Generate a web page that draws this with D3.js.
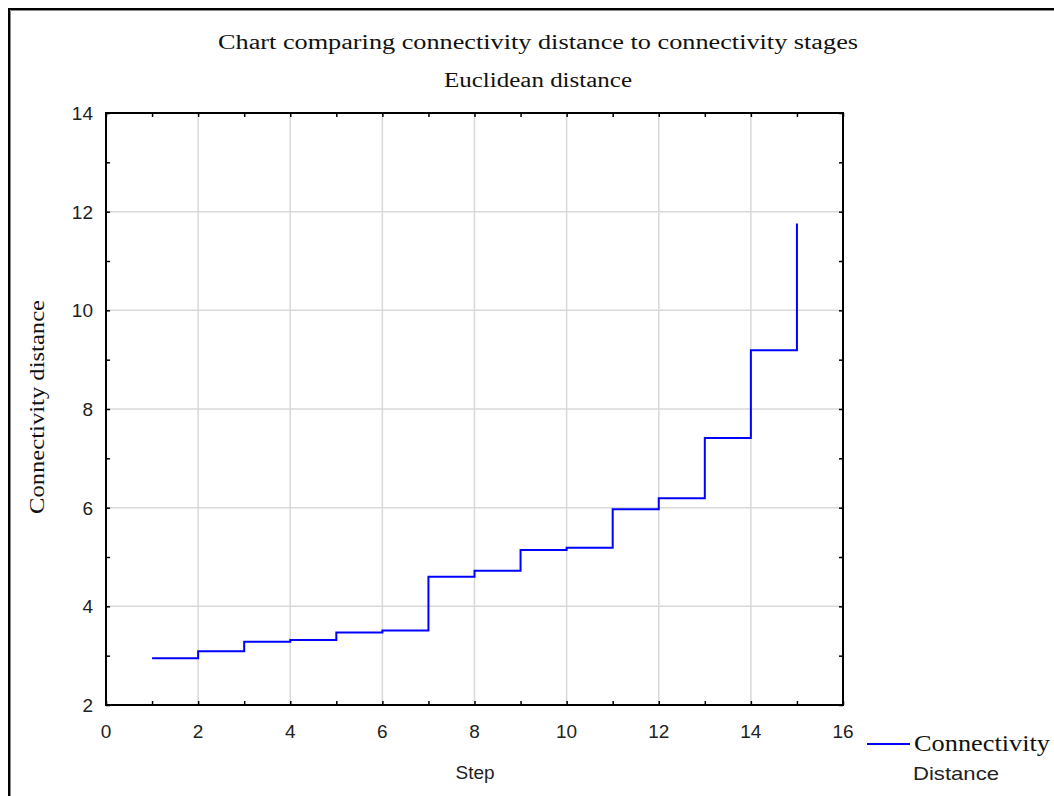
<!DOCTYPE html>
<html>
<head>
<meta charset="utf-8">
<script src="https://cdn.jsdelivr.net/npm/d3@7"></script>
<style>
  body { margin: 0; background: #fff; }
  svg { display: block; }
</style>
</head>
<body>
<div id="chart"></div>
<script>
// data
var steps = [1, 2, 3, 4, 5, 6, 7, 8, 9, 10, 11, 12, 13, 14, 15];
var distance = [2.95, 3.09, 3.28, 3.32, 3.47, 3.51, 4.60, 4.72, 5.14, 5.19, 5.97, 6.19, 7.41, 9.19, 11.76];
var xTicks = [0, 2, 4, 6, 8, 10, 12, 14, 16];
var yTicks = [2, 4, 6, 8, 10, 12, 14];

var W = 1054, H = 796;
var margin = {top: 113, right: 211, bottom: 91, left: 106};
var width = W - margin.left - margin.right,
    height = H - margin.top - margin.bottom;

var svg = d3.select("#chart").append("svg")
    .attr("width", W)
    .attr("height", H);

// outer frame (top + left only)
svg.append("path")
    .attr("d", "M9,796 V9 H1054")
    .attr("fill", "none")
    .attr("stroke", "#000")
    .attr("stroke-width", 2);
svg.append("path")
    .attr("d", "M10.5,796 V10.5 H1054")
    .attr("fill", "none")
    .attr("stroke", "#888")
    .attr("stroke-width", 1);

// titles
var serif = "'Liberation Serif', 'DejaVu Serif', serif";
var sans = "'Liberation Sans', Arial, sans-serif";
svg.append("text")
    .attr("x", 538).attr("y", 49)
    .attr("text-anchor", "middle")
    .attr("font-family", serif).attr("font-size", 20)
    .attr("fill", "#111")
    .attr("textLength", 640).attr("lengthAdjust", "spacingAndGlyphs")
    .text("Chart comparing connectivity distance to connectivity stages");
svg.append("text")
    .attr("x", 538).attr("y", 87)
    .attr("text-anchor", "middle")
    .attr("font-family", serif).attr("font-size", 20)
    .attr("fill", "#111")
    .attr("textLength", 188).attr("lengthAdjust", "spacingAndGlyphs")
    .text("Euclidean distance");

var g = svg.append("g")
    .attr("transform", "translate(" + margin.left + "," + margin.top + ")");

var x = d3.scaleLinear().domain([0, 16]).range([0, width]);
var y = d3.scaleLinear().domain([2, 14]).range([height, 0]);

// grid
g.append("g").selectAll("line")
    .data(xTicks.slice(1, -1))
    .enter().append("line")
    .attr("x1", d => x(d)).attr("x2", d => x(d))
    .attr("y1", 0).attr("y2", height)
    .attr("stroke", "#d8d8d8").attr("stroke-width", 1.5);
g.append("g").selectAll("line")
    .data(yTicks.slice(1, -1))
    .enter().append("line")
    .attr("y1", d => y(d)).attr("y2", d => y(d))
    .attr("x1", 0).attr("x2", width)
    .attr("stroke", "#d8d8d8").attr("stroke-width", 1.5);

// step line
var line = d3.line()
    .x((d, i) => x(steps[i]))
    .y(d => y(d))
    .curve(d3.curveStepAfter);
g.append("path")
    .datum(distance)
    .attr("d", line)
    .attr("fill", "none")
    .attr("stroke", "#0000ff")
    .attr("stroke-width", 2);

// axes with inside ticks, minor ticks at odd values
var xMinor = d3.range(0, 17, 1), yMinor = d3.range(2, 15, 1);
function styleAxis(sel) {
    sel.select(".domain").remove();
    sel.selectAll("line").attr("stroke", "#000").attr("stroke-width", 1.5);
}
g.append("g").attr("transform", "translate(0," + height + ")")
    .call(d3.axisBottom(x).tickValues(xMinor).tickSize(-4).tickFormat(""))
    .call(styleAxis);
g.append("g")
    .call(d3.axisTop(x).tickValues(xMinor).tickSize(-4).tickFormat(""))
    .call(styleAxis);
g.append("g")
    .call(d3.axisLeft(y).tickValues(yMinor).tickSize(-4).tickFormat(""))
    .call(styleAxis);
g.append("g").attr("transform", "translate(" + width + ",0)")
    .call(d3.axisRight(y).tickValues(yMinor).tickSize(-4).tickFormat(""))
    .call(styleAxis);

// tick labels
g.append("g").selectAll("text")
    .data(xTicks)
    .enter().append("text")
    .attr("x", d => x(d)).attr("y", height + 33)
    .attr("text-anchor", "middle")
    .attr("font-family", sans).attr("font-size", 19)
    .attr("fill", "#222")
    .text(d => d);
g.append("g").selectAll("text")
    .data(yTicks)
    .enter().append("text")
    .attr("x", -13).attr("y", d => y(d) + 7)
    .attr("text-anchor", "end")
    .attr("font-family", sans).attr("font-size", 19)
    .attr("fill", "#222")
    .text(d => d);

// frame
g.append("rect")
    .attr("width", width).attr("height", height)
    .attr("fill", "none")
    .attr("stroke", "#000").attr("stroke-width", 2);

// axis titles
svg.append("text")
    .attr("x", 475).attr("y", 779)
    .attr("text-anchor", "middle")
    .attr("font-family", sans).attr("font-size", 19)
    .attr("fill", "#222")
    .text("Step");
svg.append("text")
    .attr("transform", "translate(44,407) rotate(-90)")
    .attr("text-anchor", "middle")
    .attr("font-family", serif).attr("font-size", 22)
    .attr("fill", "#111")
    .attr("textLength", 214).attr("lengthAdjust", "spacingAndGlyphs")
    .text("Connectivity distance");

// legend
svg.append("line")
    .attr("x1", 867).attr("x2", 910)
    .attr("y1", 744).attr("y2", 744)
    .attr("stroke", "#0000ff").attr("stroke-width", 2);
svg.append("text")
    .attr("x", 914).attr("y", 751)
    .attr("font-family", serif).attr("font-size", 23)
    .attr("fill", "#111")
    .attr("textLength", 136).attr("lengthAdjust", "spacingAndGlyphs")
    .text("Connectivity");
svg.append("text")
    .attr("x", 913).attr("y", 780)
    .attr("font-family", sans).attr("font-size", 19)
    .attr("fill", "#222")
    .attr("textLength", 86).attr("lengthAdjust", "spacingAndGlyphs")
    .text("Distance");
</script>
</body>
</html>
